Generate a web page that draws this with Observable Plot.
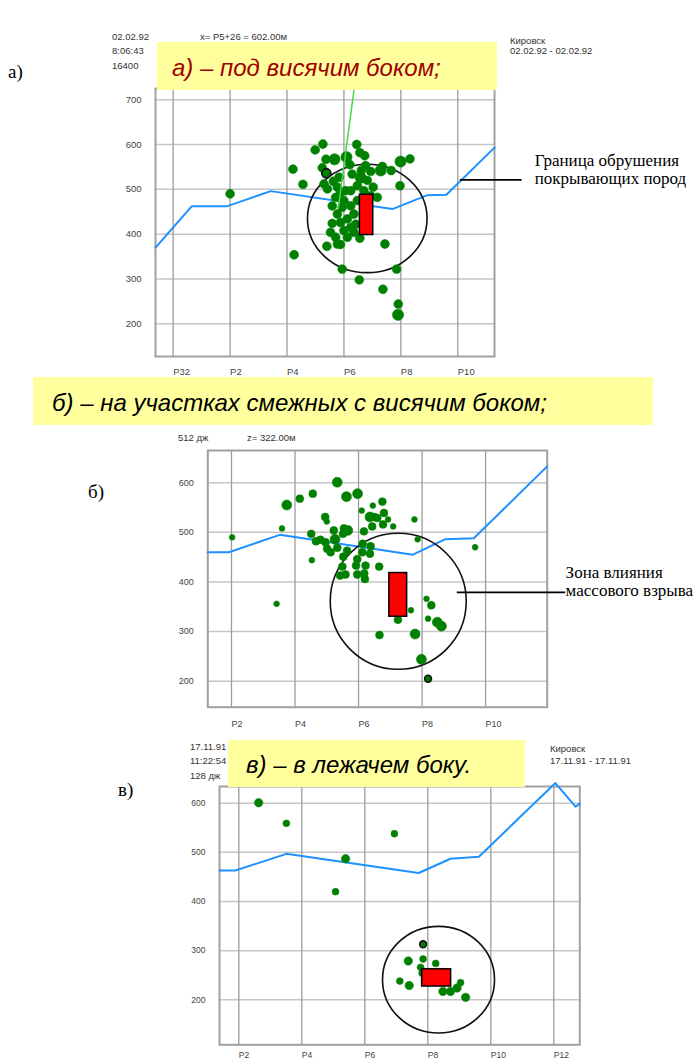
<!DOCTYPE html>
<html><head><meta charset="utf-8">
<script src="https://cdn.jsdelivr.net/npm/d3@7"></script>
<script src="https://cdn.jsdelivr.net/npm/@observablehq/plot@0.6"></script>
<style>
body{margin:0;background:#fff;}
#page{position:relative;width:695px;height:1064px;overflow:hidden;background:#fff;font-family:"Liberation Sans",Arial,sans-serif;}
.hdr{position:absolute;white-space:nowrap;font-size:9.5px;line-height:10px;color:#333;z-index:2;}
.banner{position:absolute;background:#ffff9e;z-index:5;}
.banner span{position:absolute;font-style:italic;font-size:24px;line-height:24px;white-space:nowrap;font-family:"Liberation Sans",Arial,sans-serif;}
.plabel{position:absolute;font-family:"Liberation Serif",serif;font-size:19px;line-height:20px;color:#000;z-index:2;}
#page svg{position:absolute;left:0;z-index:1;overflow:visible;}
</style></head>
<body><div id="page"></div>
<script>
// ---------- shared tick data ----------
const yTicksA = [200, 300, 400, 500, 600, 700];
const yTicksBC = [200, 300, 400, 500, 600];
const xTicksA = [0, 2, 4, 6, 8, 10];
const xLabelsA = ["P32", "P2", "P4", "P6", "P8", "P10"];
const xTicksB = [2, 4, 6, 8, 10];
const xLabelsB = ["P2", "P4", "P6", "P8", "P10"];
const xTicksC = [2, 4, 6, 8, 10, 12];
const xLabelsC = ["P2", "P4", "P6", "P8", "P10", "P12"];

// ---------- panel а ----------
const boundaryAx = [-0.62, 0.65, 1.88, 3.43, 7.70, 8.93, 9.60, 11.29];
const boundaryAy = [370, 462, 462, 496, 456, 487, 488, 593];
const greenLineAx = [6.36, 5.80];
const greenLineAy = [725, 458];
const eventsAx = [2.00,4.21,4.56,4.25,4.99,5.26,5.37,5.67,6.09,6.45,6.56,6.73,5.24,5.63,5.42,6.21,6.61,6.94,7.29,7.35,7.99,8.32,7.66,7.97,6.59,6.82,6.47,6.24,5.88,5.71,6.00,5.59,6.24,5.77,6.35,6.12,5.59,5.53,6.00,6.24,6.12,6.56,5.77,5.88,5.40,7.44,5.94,7.85,6.54,7.37,7.91,7.90,7.17,7.03,6.70,5.77,5.83,6.29,6.76,5.30,5.94,6.47,5.88,6.41,5.71,6.35,6.06,6.94];
const eventsAy = [490,545,511,354,588,601,567,567,572,600,582,575,548,518,501,555,542,540,542,551,562,568,542,508,526,520,508,497,493,482,475,463,463,445,445,434,424,404,408,415,393,391,378,377,373,378,322,322,298,277,244,220,482,505,497,505,527,534,553,512,460,475,426,422,393,404,497,486];
const eventsAs = [2,2,2,2,2,2,2,3,3,2,2,2,2,2,2,2,2,2,3,2,3,2,2,2,3,2,2,2,2,2,2,2,2,2,2,2,2,2,2,2,2,2,2,2,2,2,2,2,2,2,2,3,2,2,2,2,2,2,2,2,2,2,2,2,2,2,2,2];
const markedAx = [5.38], markedAy = [536];
const zoneA = {x: 6.82, y: 435};
const blastA = {x1: 6.56, x2: 7.03, y1: 398, y2: 488};
const leaderA = {x1: 10.09, x2: 12.26, y: 521};
const noteA = ["Граница обрушения", "покрывающих пород"];
const noteAx = 12.70, noteAy = [564, 523];

// ---------- panel б ----------
const boundaryBx = [1.25, 1.92, 3.52, 7.71, 8.72, 9.63, 11.94];
const boundaryBy = [460, 460, 495, 455, 486, 488, 633];
const eventsBx = [2.02,3.42,3.59,3.74,4.15,4.56,4.51,4.53,4.95,5.00,4.66,4.80,4.96,5.01,5.12,5.26,5.33,5.33,5.51,5.54,5.66,5.62,5.97,5.52,5.64,5.49,5.42,5.59,5.96,5.92,5.96,6.10,6.17,6.13,6.22,6.18,6.20,6.38,6.36,6.36,6.45,6.49,6.59,6.43,6.75,6.80,6.77,6.93,7.09,6.65,7.76,7.86,9.67,7.24,7.65,6.66,7.78,8.14,8.29,8.19,8.48,8.61,7.98,6.12,5.22];
const eventsBy = [490,356,508,555,568,578,497,444,531,522,482,485,480,467,460,486,469,601,497,508,504,572,578,451,463,431,413,415,415,433,446,544,502,477,433,417,406,472,457,531,554,531,529,512,562,539,516,526,512,431,526,486,470,324,343,293,295,366,353,326,319,311,244,460,504];
const eventsBs = [1,1,1,3,2,2,2,1,2,1,2,2,2,2,2,3,2,3,2,2,3,3,3,2,2,2,2,2,2,2,2,1,2,2,2,2,2,2,2,3,1,2,2,2,2,2,2,1,1,2,1,1,1,2,1,2,3,1,2,1,3,3,3,2,2];
const markedBx = [8.19], markedBy = [205];
const zoneB = {x: 7.25, y: 361};
const blastB = {x1: 6.97, x2: 7.53, y1: 330, y2: 418};
const leaderB = {x1: 9.11, x2: 12.52, y: 379};
const noteB = ["Зона влияния", "массового взрыва"];
const noteBx = 12.52, noteBy = [420, 383];

// ---------- panel в ----------
const boundaryCx = [1.39, 1.89, 3.51, 7.71, 8.72, 9.62, 12.05, 12.69, 12.83];
const boundaryCy = [463, 463, 497, 458, 487, 491, 641, 593, 599];
const eventsCx = [2.63,3.51,5.39,5.07,6.94,7.38,7.85,8.25,7.77,7.82,7.11,7.41,8.48,8.72,8.93,9.04,9.20];
const eventsCy = [601,559,487,420,538,279,283,274,266,254,238,229,217,217,224,235,205];
const eventsCs = [3,2,3,2,2,3,2,2,2,2,2,3,3,3,3,2,3];
const markedCx = [7.85], markedCy = [313];
const zoneC = {x: 8.34, y: 241};
const blastC = {x1: 7.82, x2: 8.74, y1: 227, y2: 262};

// ---------- helpers ----------
function ellipseSymbol(rx, ry) {
  const k = 0.5522847;
  return {draw(ctx) {
    ctx.moveTo(rx, 0);
    ctx.bezierCurveTo(rx, ry * k, rx * k, ry, 0, ry);
    ctx.bezierCurveTo(-rx * k, ry, -rx, ry * k, -rx, 0);
    ctx.bezierCurveTo(-rx, -ry * k, -rx * k, -ry, 0, -ry);
    ctx.bezierCurveTo(rx * k, -ry, rx, -ry * k, rx, 0);
    ctx.closePath();
  }};
}
const zip = (xs, ys, extra) => xs.map((x, i) => ({x, y: ys[i], s: extra ? extra[i] : 1}));

function panel(o) {
  const [L, T, R, B] = o.frame;
  const labelMap = new Map(o.xTicks.map((t, i) => [t, o.xLabels[i]]));
  const marks = [
    Plot.gridY(o.yTicks, {stroke: "#c6c6c6", strokeOpacity: 1, strokeWidth: 1.5}),
    Plot.gridX(o.xTicks, {stroke: "#9c9c9c", strokeOpacity: 1, strokeWidth: 1.3}),
    Plot.frame({stroke: "#a0a0a0", strokeWidth: 2}),
    Plot.text(o.yTicks, {y: d => d, text: d => String(d), frameAnchor: "left", dx: -14, textAnchor: "end", fill: "#444", fontSize: o.fs}),
    Plot.text(o.xTicks, {x: d => d, text: d => labelMap.get(d), frameAnchor: "bottom", dy: o.xdy, lineAnchor: "top", textAnchor: "start", fill: "#444", fontSize: o.fs}),
    Plot.line(zip(o.bx, o.by), {x: "x", y: "y", stroke: "#1e90ff", strokeWidth: 2})
  ];
  marks.push(Plot.dot([o.zone], {x: "x", y: "y", r: 1, symbol: ellipseSymbol(o.rx, o.ry), fill: "none", stroke: "#111", strokeWidth: 1.6}));
  marks.push(Plot.dot(zip(o.ex, o.ey, o.es), {x: "x", y: "y", r: "s", fill: "#007f00", stroke: "#0a8a0a", strokeWidth: 0.6}));
  marks.push(Plot.dot(zip(o.mx, o.my), {x: "x", y: "y", r: o.mr, fill: "#007f00", stroke: "#111", strokeWidth: 1.6}));
  if (o.gx) marks.push(Plot.line(zip(o.gx, o.gy), {x: "x", y: "y", stroke: "#3fdc3f", strokeWidth: 1.5}));
  marks.push(Plot.rect([o.blast], {x1: "x1", x2: "x2", y1: "y1", y2: "y2", fill: "#ff0000", stroke: "#000", strokeWidth: 1.5}));
  if (o.leader) marks.push(Plot.ruleY([o.leader], {y: "y", x1: "x1", x2: "x2", stroke: "#000", strokeWidth: 1.6}));
  if (o.note) marks.push(Plot.text(o.note.map((t, i) => ({t, y: o.noteY[i]})), {x: o.noteX, y: "y", text: "t", textAnchor: "start", lineAnchor: "middle", fontFamily: "Liberation Serif", fontSize: 17, fill: "#000"}));
  const svg = Plot.plot({
    width: 695, height: o.height,
    marginLeft: L, marginRight: 695 - R, marginTop: T - o.top, marginBottom: o.top + o.height - B,
    x: {domain: o.xDomain, axis: null}, y: {domain: o.yDomain, axis: null},
    r: {type: "linear", domain: [1, 3], range: o.rRange},
    style: {fontFamily: "Liberation Sans, Arial, sans-serif", background: "transparent", overflow: "visible"},
    marks
  });
  svg.style.top = o.top + "px";
  return svg;
}

const page = document.getElementById("page");
page.appendChild(panel({
  top: 80, height: 305, frame: [155, 88, 494, 356],
  xDomain: [-0.62, 11.29], yDomain: [127, 725],
  xTicks: xTicksA, xLabels: xLabelsA, yTicks: yTicksA, fs: 9.5, xdy: 12,
  bx: boundaryAx, by: boundaryAy, gx: greenLineAx, gy: greenLineAy,
  ex: eventsAx, ey: eventsAy, es: eventsAs, rRange: [3.3, 5.6],
  mx: markedAx, my: markedAy, mr: 4.6,
  zone: zoneA, rx: 59.8, ry: 54.2, blast: blastA, leader: leaderA,
  note: noteA, noteX: noteAx, noteY: noteAy
}));
page.appendChild(panel({
  top: 440, height: 300, frame: [207.3, 450, 546.7, 706.7],
  xDomain: [1.254, 11.94], yDomain: [147.6, 665],
  xTicks: xTicksB, xLabels: xLabelsB, yTicks: yTicksBC, fs: 9, xdy: 13,
  bx: boundaryBx, by: boundaryBy,
  ex: eventsBx, ey: eventsBy, es: eventsBs, rRange: [2.9, 5],
  mx: markedBx, my: markedBy, mr: 3.4,
  zone: zoneB, rx: 68, ry: 68, blast: blastB, leader: leaderB,
  note: noteB, noteX: noteBx, noteY: noteBy
}));
page.appendChild(panel({
  top: 776, height: 288, frame: [219, 786, 579.3, 1044.3],
  xDomain: [1.387, 12.825], yDomain: [108.4, 634],
  xTicks: xTicksC, xLabels: xLabelsC, yTicks: yTicksBC, fs: 8.5, xdy: 7,
  bx: boundaryCx, by: boundaryCy,
  ex: eventsCx, ey: eventsCy, es: eventsCs, rRange: [2.7, 4.2],
  mx: markedCx, my: markedCy, mr: 3.4,
  zone: zoneC, rx: 56, ry: 53.3, blast: blastC
}));

// ---------- HTML texts ----------
function add(cls, text, left, top, style) {
  const d = document.createElement("div");
  d.className = cls; d.textContent = text;
  d.style.left = left + "px"; d.style.top = top + "px";
  if (style) Object.assign(d.style, style);
  page.appendChild(d); return d;
}
function banner(text, left, top, w, h, tx, ty, color) {
  const b = document.createElement("div");
  b.className = "banner";
  Object.assign(b.style, {left: left + "px", top: top + "px", width: w + "px", height: h + "px"});
  const s = document.createElement("span");
  s.textContent = text;
  Object.assign(s.style, {left: tx + "px", top: ty + "px", color});
  b.appendChild(s); page.appendChild(b);
}
// panel а header
add("hdr", "02.02.92", 112, 32);
add("hdr", "8:06:43", 112, 46);
add("hdr", "16400", 112, 61);
add("hdr", "x= P5+26 = 602.00м", 200, 32);
add("hdr", "Кировск", 510, 36);
add("hdr", "02.02.92 - 02.02.92", 510, 46);
add("plabel", "а)", 8, 62);
banner("а) – под висячим боком;", 157, 42, 340, 48, 15, 14, "#a00000");
// panel б header
add("hdr", "512 дж", 178, 433);
add("hdr", "z= 322.00м", 247, 433);
add("plabel", "б)", 88, 482);
banner("б) – на участках смежных с висячим боком;", 33, 377, 620, 48, 19, 14, "#000");
// panel в header
add("hdr", "17.11.91", 190, 742);
add("hdr", "11:22:54", 190, 756);
add("hdr", "128 дж", 190, 771);
add("hdr", "Кировск", 550, 744);
add("hdr", "17.11.91 - 17.11.91", 550, 756);
add("plabel", "в)", 118, 780);
banner("в) – в лежачем боку.", 228, 740, 297, 47, 18, 13, "#000");
</script>
</body></html>
